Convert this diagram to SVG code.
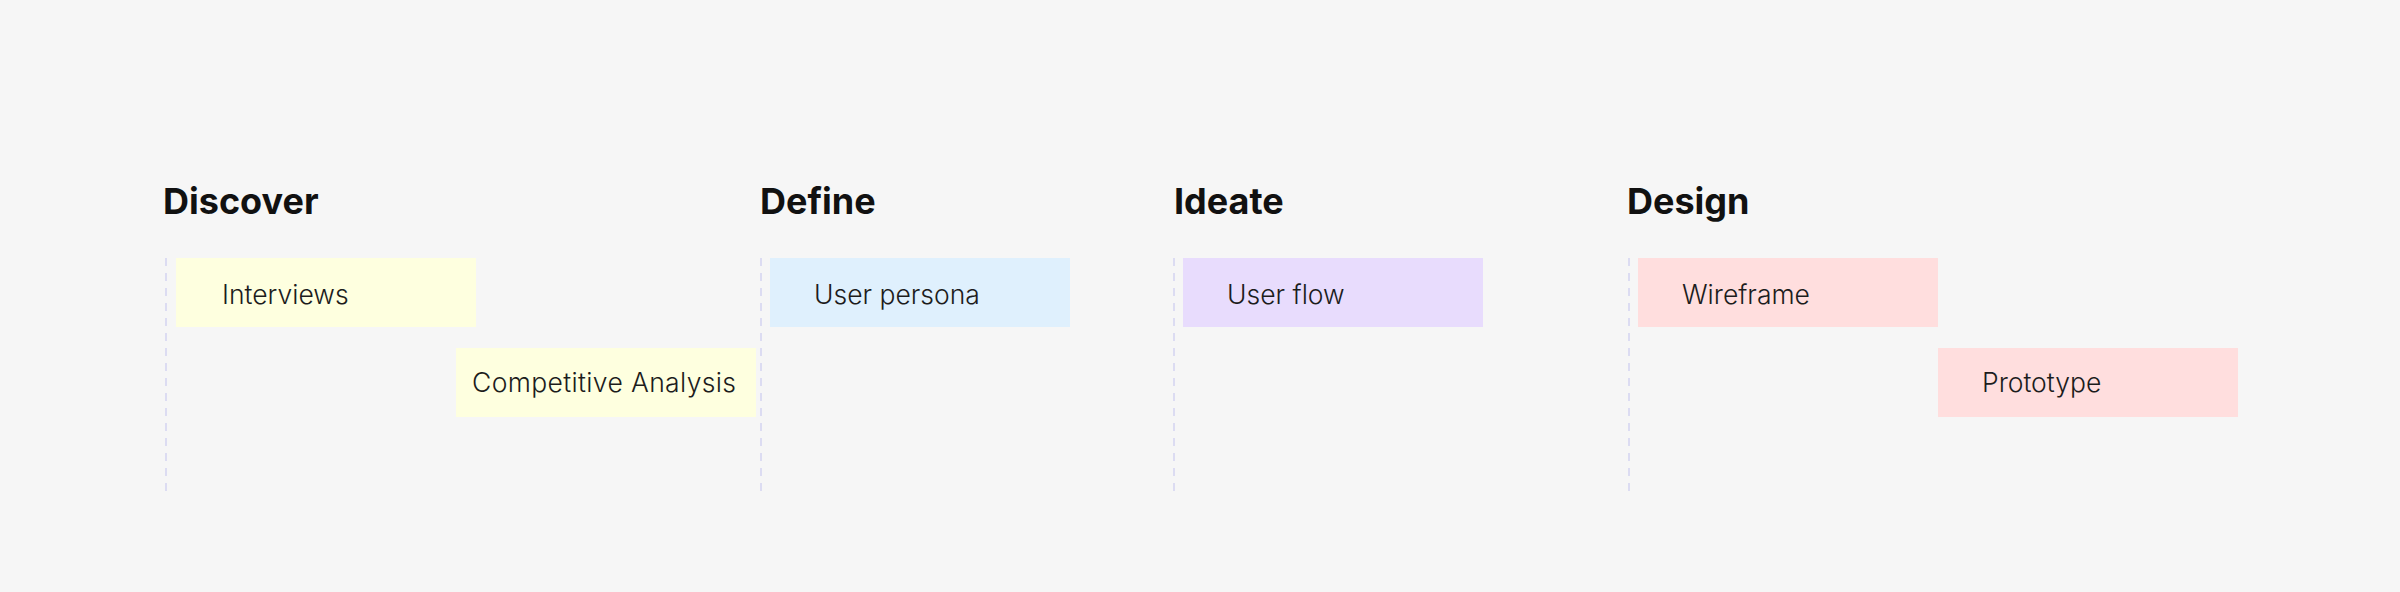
<svg xmlns="http://www.w3.org/2000/svg" width="2400" height="592" viewBox="0 0 2400 592">
<style>
.bg{fill:#f6f6f6}
.h{font-family:Inter,"Noto Sans",sans-serif;font-weight:700;font-size:36px;fill:#111111}
.t{font-family:Inter,"Noto Sans",sans-serif;font-weight:300;font-size:26.5px;fill:#1c1c1c}
.lane{stroke:#dcdcf2;stroke-width:2;stroke-dasharray:8 7;fill:none}
.y{fill:#feffdf}.b{fill:#dff0fd}.p{fill:#e8dcfd}.r{fill:#ffdede}
</style>
<rect class="bg" x="0" y="0" width="2400" height="592"/>
<g id="connectors">
<line class="lane" x1="166" y1="258" x2="166" y2="498"/>
<line class="lane" x1="761" y1="258" x2="761" y2="498"/>
<line class="lane" x1="1174" y1="258" x2="1174" y2="498"/>
<line class="lane" x1="1629" y1="258" x2="1629" y2="498"/>
</g>
<g id="discover"><text class="h" x="163" y="214">Discover</text></g>
<g id="define"><text class="h" x="760" y="214">Define</text></g>
<g id="ideate"><text class="h" x="1174" y="214">Ideate</text></g>
<g id="design"><text class="h" x="1627" y="214">Design</text></g>
<g id="interviews"><rect class="y" x="176" y="258" width="300" height="69"/><text class="t" x="222" y="304">Interviews</text></g>
<g id="competitive-analysis"><rect class="y" x="456" y="348" width="300" height="69"/><text class="t" x="472" y="392" textLength="264" lengthAdjust="spacing">Competitive Analysis</text></g>
<g id="user-persona"><rect class="b" x="770" y="258" width="300" height="69"/><text class="t" x="814" y="304">User persona</text></g>
<g id="user-flow"><rect class="p" x="1183" y="258" width="300" height="69"/><text class="t" x="1227" y="304">User flow</text></g>
<g id="wireframe"><rect class="r" x="1638" y="258" width="300" height="69"/><text class="t" x="1682" y="304">Wireframe</text></g>
<g id="prototype"><rect class="r" x="1938" y="348" width="300" height="69"/><text class="t" x="1982" y="392">Prototype</text></g>
</svg>
